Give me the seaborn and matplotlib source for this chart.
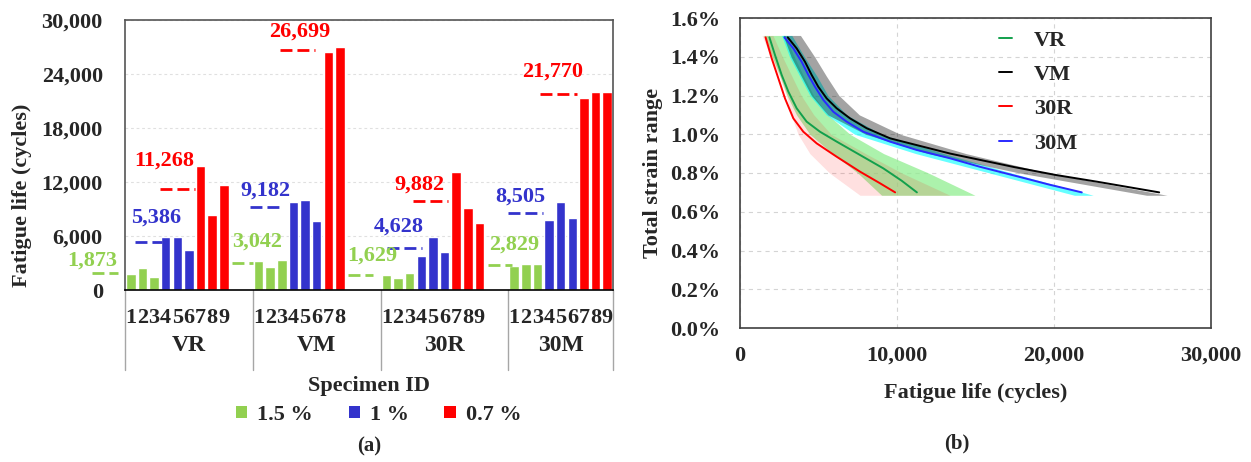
import numpy as np
import pandas as pd
import matplotlib
matplotlib.use("Agg")
import matplotlib.pyplot as plt
import seaborn as sns
from matplotlib.patches import Patch
from matplotlib.ticker import FuncFormatter

# ---------------- data: panel (a) ----------------
groups = ["VR", "VM", "30R", "30M"]
strain_levels = ["1.5 %", "1 %", "0.7 %"]

vr_strain = ["1.5 %", "1.5 %", "1.5 %", "1 %", "1 %", "1 %", "0.7 %", "0.7 %", "0.7 %"]
vm_strain = ["1.5 %", "1.5 %", "1.5 %", "1 %", "1 %", "1 %", "0.7 %", "0.7 %"]
r30_strain = ["1.5 %", "1.5 %", "1.5 %", "1 %", "1 %", "1 %", "0.7 %", "0.7 %", "0.7 %"]
m30_strain = ["1.5 %", "1.5 %", "1.5 %", "1 %", "1 %", "1 %", "0.7 %", "0.7 %", "0.7 %"]

vr_life = [1800, 2420, 1400, 5880, 5880, 4400, 13750, 8350, 11700]
vm_life = [3230, 2530, 3370, 9830, 10030, 7690, 26450, 26950]
r30_life = [1670, 1370, 1850, 3790, 5870, 4230, 13080, 9140, 7430]
m30_life = [2700, 2890, 2900, 7800, 9730, 7980, 21300, 22050, 21960]

vr_mean = [1873, 5386, 11268]
vm_mean = [3042, 9182, 26699]
r30_mean = [1629, 4628, 9882]
m30_mean = [2829, 8505, 21770]

bar_colors = {"1.5 %": "#92d050", "1 %": "#3333cc", "0.7 %": "#ff0000"}

# ---------------- data: panel (b) ----------------
curve_names = ["VR", "VM", "30R", "30M"]
vr_c_strain = [1.5, 1.409, 1.306, 1.22, 1.134, 1.065, 1.013, 0.962, 0.893, 0.824, 0.76, 0.7]
vr_c_life = [1873, 2229, 2654, 3079, 3609, 4245, 5095, 6157, 7643, 9127, 10300, 11268]
vm_c_strain = [1.5, 1.443, 1.374, 1.306, 1.245, 1.185, 1.134, 1.082, 1.031, 0.979, 0.944,
               0.9, 0.876, 0.83, 0.79, 0.755, 0.7]
vm_c_life = [3042, 3609, 4140, 4564, 4988, 5520, 6157, 7006, 8068, 9553, 11254,
             13400, 14800, 17500, 20100, 22750, 26699]
r30_c_strain = [1.5, 1.392, 1.289, 1.185, 1.082, 1.013, 0.953, 0.884, 0.807, 0.747, 0.7]
r30_c_life = [1629, 2017, 2441, 2866, 3397, 4033, 4883, 6157, 7643, 8917, 9882]
m30_c_strain = [1.5, 1.443, 1.374, 1.306, 1.245, 1.177, 1.116, 1.065, 1.013, 0.962, 0.919,
                0.876, 0.832, 0.78, 0.74, 0.7]
m30_c_life = [2829, 3397, 3927, 4352, 4777, 5308, 5944, 6794, 7856, 9553, 11254,
              13375, 15286, 17800, 19700, 21770]

band_strain = [1.51, 1.4, 1.3, 1.2, 1.1, 1.0, 0.9, 0.8, 0.685]
vr_band_lo = [1500, 2050, 2550, 3000, 3600, 4450, 5900, 7500, 9020]
vr_band_hi = [2870, 3450, 4050, 4680, 5600, 7000, 9150, 12000, 14967]
r30_band_lo = [1400, 1950, 2500, 2950, 3250, 3700, 4450, 5700, 7643]
r30_band_hi = [2100, 2700, 3300, 3900, 4700, 5800, 8000, 10300, 13375]
vm_band_lo = [2750, 3250, 3900, 4550, 5600, 8000, 12000, 17800, 25900]
vm_band_hi = [3850, 4750, 5500, 6300, 7600, 10200, 14400, 19600, 27200]
m30_band_lo = [2650, 3150, 3800, 4450, 5500, 7300, 11200, 15900, 21300]
m30_band_hi = [3300, 4100, 4900, 5600, 6800, 9000, 13000, 17300, 22500]

line_colors = {"VR": "#12a04c", "VM": "#000000", "30R": "#ff0000", "30M": "#2a2aff"}

x_ticks_b = [0, 10000, 20000, 30000]
y_ticks_b = [0.0, 0.2, 0.4, 0.6, 0.8, 1.0, 1.2, 1.4, 1.6]
y_ticks_a = [0, 6000, 12000, 18000, 24000, 30000]

# ---------------- layout of mean markers (slot units from group start) ----------------
dash_spans = [[(-2.84, -0.6), (0.86, 3.18), (3.01, 6.02)],
              [(-1.81, 0.0), (-0.26, 2.58), (2.32, 5.34)],
              [(-2.84, -0.69), (0.52, 3.53), (2.75, 5.76)],
              [(-1.72, 0.34), (0.0, 3.01), (2.75, 5.94)]]
label_cx = [[-2.8, 2.67, 3.36], [0.34, 1.12, 4.04], [-0.69, 1.55, 3.31], [0.52, 1.03, 3.79]]
label_dy_px = [[13, 24, 28], [21, 17, 18], [20, 22, 16], [20, 17, 22]]

# ---------------- style ----------------
sns.set_style("white")
plt.rcParams["font.family"] = ["Liberation Serif", "DejaVu Serif"]
plt.rcParams["font.weight"] = "bold"
plt.rcParams["axes.labelweight"] = "bold"
plt.rcParams["lines.scale_dashes"] = False
FS = 16

fig = plt.figure(figsize=(12.51, 4.62), dpi=100)
W, H = 1251, 462
ax1 = fig.add_axes([125 / W, 1 - 290 / H, 488 / W, 270 / H])
ax2 = fig.add_axes([740 / W, 1 - 328 / H, 471 / W, 310 / H])

# ---------------- panel (a) ----------------
slots = 11
strains_all = [vr_strain, vm_strain, r30_strain, m30_strain]
lifes_all = [vr_life, vm_life, r30_life, m30_life]
means_all = [vr_mean, vm_mean, r30_mean, m30_mean]
rows = []
for j, g in enumerate(groups):
    for i, (s, v) in enumerate(zip(strains_all[j], lifes_all[j])):
        rows.append({"pos": j * slots + i, "life": v, "strain": s, "group": g, "lab": str(i + 1)})
df = pd.DataFrame(rows)

sns.barplot(data=df, x="pos", y="life", hue="strain", hue_order=strain_levels,
            palette=bar_colors, native_scale=True, dodge=False, width=0.82,
            errorbar=None, saturation=1, legend=False, ax=ax1)

n_last = len(strains_all[-1])
xmax = (len(groups) - 1) * slots + n_last - 0.5
ax1.set_xlim(-0.5, xmax)
ax1.set_ylim(0, 30000)
ax1.set_yticks(y_ticks_a)
ax1.yaxis.set_major_formatter(FuncFormatter(lambda v, p: f"{int(v):,}"))
ax1.set_xticks(df["pos"].tolist())
ax1.set_xticklabels(df["lab"].tolist())
ax1.tick_params(axis="x", length=0, pad=13, labelsize=FS)
ax1.tick_params(axis="y", length=0, pad=16, labelsize=FS)
ax1.yaxis.grid(True, ls=(0, (2, 2)), color="#e0e0e0", lw=0.8)
ax1.set_axisbelow(True)
ax1.set_xlabel("")
ax1.set_ylabel("Fatigue life (cycles)", fontsize=FS, fontweight="bold")
ax1.yaxis.set_label_coords(-0.19, 0.35)
for sp in ax1.spines.values():
    sp.set_color("#555555")
    sp.set_linewidth(1.2)
ax1.spines["bottom"].set_color("#000000")

# mean dashes + labels
for j, g in enumerate(groups):
    e0 = j * slots - 0.5
    for l, lev in enumerate(strain_levels):
        m = means_all[j][l]
        col = bar_colors[lev]
        a, b = dash_spans[j][l]
        ax1.plot([e0 + a, e0 + b], [m, m], color=col, lw=2.0, ls=(0, (8.6, 3.6)),
                 clip_on=False, zorder=5)
        ax1.annotate(f"{m:,}", xy=(e0 + label_cx[j][l], m),
                     xytext=(0, label_dy_px[j][l] * 0.72),
                     textcoords="offset points", ha="center", va="center",
                     color=col, fontsize=FS, fontweight="bold", zorder=6,
                     annotation_clip=False)

# group labels & separators
trans = ax1.get_xaxis_transform()
edges = [j * slots - 0.5 for j in range(len(groups))] + [xmax]
for e in edges:
    ax1.plot([e, e], [0, -0.296], transform=trans, color="#a6a6a6", lw=1.0, clip_on=False)
for j, g in enumerate(groups):
    ax1.text((edges[j] + edges[j + 1]) / 2, -0.207, g, transform=trans, ha="center",
             va="center", fontsize=FS + 1, fontweight="bold")
ax1.text(0.5, -0.357, "Specimen ID", transform=ax1.transAxes, ha="center", va="center",
         fontsize=FS, fontweight="bold")
ax1.text(0.5, -0.578, "(a)", transform=ax1.transAxes, ha="center", va="center",
         fontsize=FS - 1, fontweight="bold")
handles = [Patch(facecolor=bar_colors[s], edgecolor="none", label=s) for s in strain_levels]
ax1.legend(handles=handles, loc="center", bbox_to_anchor=(0.52, -0.462), ncol=3,
           frameon=False, fontsize=FS, handlelength=0.5, handleheight=0.5,
           handletextpad=0.45, columnspacing=1.6, borderaxespad=0)

# ---------------- panel (b) ----------------
band_specs = [
    ("VR", vr_band_lo, vr_band_hi, "#90ee90", 0.75),
    ("30R", r30_band_lo, r30_band_hi, "#ff0000", 0.12),
    ("30M", m30_band_lo, m30_band_hi, "#00ffff", 0.6),
    ("VM", vm_band_lo, vm_band_hi, "#000000", 0.36),
]
for name, lo, hi, col, a in band_specs:
    ax2.fill_betweenx(band_strain, lo, hi, color=col, alpha=a, lw=0, zorder=1)

curve_strains = [vr_c_strain, vm_c_strain, r30_c_strain, m30_c_strain]
curve_lifes = [vr_c_life, vm_c_life, r30_c_life, m30_c_life]
crow = []
for name, ss, ll in zip(curve_names, curve_strains, curve_lifes):
    for s, n in zip(ss, ll):
        crow.append({"name": name, "strain": s, "life": n})
cdf = pd.DataFrame(crow)
sns.lineplot(data=cdf, x="life", y="strain", hue="name", hue_order=curve_names,
             palette=line_colors, estimator=None, sort=False, lw=1.4, ax=ax2, zorder=3)

ax2.set_xlim(0, 30000)
ax2.set_ylim(0, 1.6)
ax2.set_xticks(x_ticks_b)
ax2.set_yticks(y_ticks_b)
ax2.xaxis.set_major_formatter(FuncFormatter(lambda v, p: f"{int(v):,}"))
ax2.yaxis.set_major_formatter(FuncFormatter(lambda v, p: f"{v:.1f}%"))
ax2.tick_params(axis="x", length=0, pad=13, labelsize=FS)
ax2.tick_params(axis="y", length=0, pad=14, labelsize=FS)
ax2.grid(True, ls=(0, (3, 3)), color="#d4d4d4", lw=0.8)
ax2.set_axisbelow(True)
ax2.set_xlabel("Fatigue life (cycles)", fontsize=FS, fontweight="bold")
ax2.set_ylabel("Total strain range", fontsize=FS, fontweight="bold")
ax2.xaxis.set_label_coords(0.5, -0.177)
ax2.yaxis.set_label_coords(-0.163, 0.5)
for sp in ax2.spines.values():
    sp.set_color("#404040")
    sp.set_linewidth(1.2)
h, lbl = ax2.get_legend_handles_labels()
ax2.legend(h, lbl, loc="upper left", bbox_to_anchor=(0.53, 0.99), frameon=False,
           fontsize=FS, handlelength=0.6, handletextpad=1.0, labelspacing=0.62,
           borderaxespad=0)
ax2.text(0.46, -0.371, "(b)", transform=ax2.transAxes, ha="center", va="center",
         fontsize=FS - 1, fontweight="bold")

fig.savefig("out.png", dpi=100)
